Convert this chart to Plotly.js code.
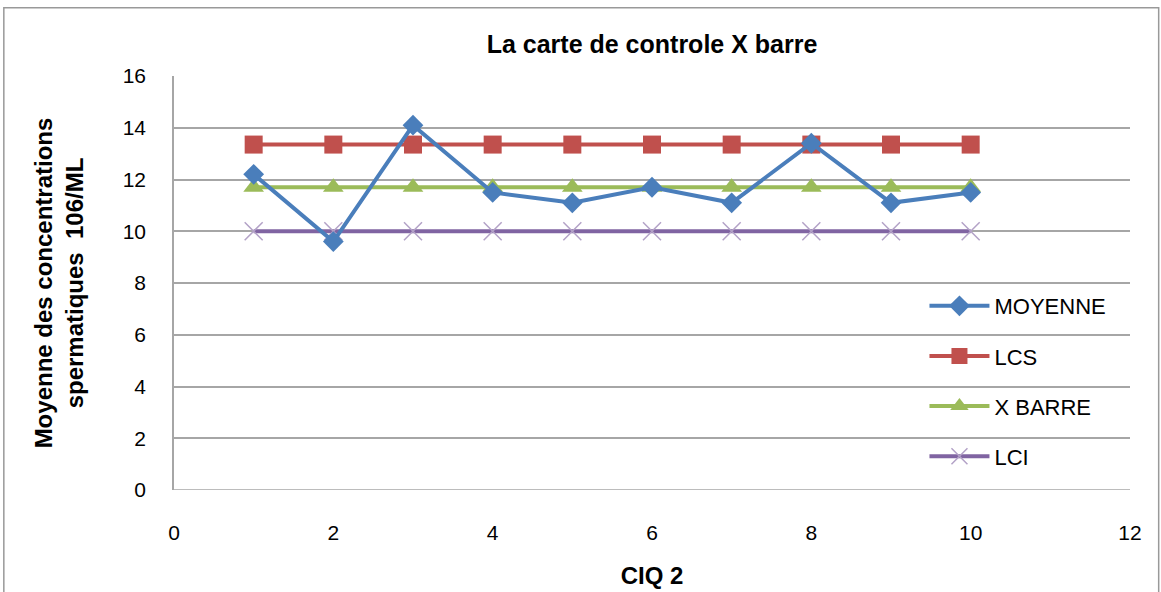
<!DOCTYPE html>
<html><head><meta charset="utf-8">
<script src="https://cdn.plot.ly/plotly-3.0.1.min.js"></script>
<style>html,body{margin:0;padding:0;background:#fff}#chart{width:1161px;height:592px}</style>
</head><body><div id="chart"></div>
<script>
const xs = [1,2,3,4,5,6,7,8,9,10];
const moyenne = [12.2,9.6,14.1,11.5,11.1,11.7,11.1,13.4,11.1,11.5];
const lcs = [13.35,13.35,13.35,13.35,13.35,13.35,13.35,13.35,13.35,13.35];
const xbarre = [11.7,11.7,11.7,11.7,11.7,11.7,11.7,11.7,11.7,11.7];
const lci = [10,10,10,10,10,10,10,10,10,10];
const names = ['MOYENNE','LCS','X BARRE','LCI'];
const font = 'Liberation Sans, Arial, sans-serif';
const traces = [
 {x:xs,y:lcs,name:names[1],legendgroup:'b',legendrank:2,mode:'lines+markers',line:{color:'#C0504D',width:4},marker:{symbol:'square',size:18,color:'#C0504D'}},
 {x:xs,y:xbarre,name:names[2],legendgroup:'c',legendrank:3,mode:'lines+markers',line:{color:'#9BBB59',width:4},marker:{symbol:'triangle-up',size:18,color:'#9BBB59'}},
 {x:xs,y:lci,name:names[3],legendgroup:'d',legendrank:4,mode:'lines+markers',line:{color:'#8064A2',width:4},marker:{symbol:'x-thin',size:18,line:{color:'#B3A2C7',width:1.5},color:'#B3A2C7'}},
 {x:xs,y:moyenne,name:names[0],legendgroup:'a',legendrank:1,mode:'lines+markers',line:{color:'#4A7EBB',width:4},marker:{symbol:'diamond',size:16,color:'#4A7EBB'}}
];
const layout = {
 width:1161,height:592,
 margin:{l:174,r:31,t:76,b:102},
 paper_bgcolor:'#fff',plot_bgcolor:'#fff',
 font:{family:font,size:21,color:'#000'},
 title:{text:'<b>La carte de controle X barre</b>',x:0.5,xref:'paper',y:0.925,yanchor:'middle',font:{size:25,family:font}},
 showlegend:true,
 legend:{x:0.785,y:0.495,xanchor:'left',yanchor:'top',bgcolor:'rgba(0,0,0,0)',tracegroupgap:18.5,font:{size:22,family:font},itemwidth:60},
 xaxis:{range:[0,12],dtick:2,tick0:0,showgrid:false,zeroline:false,showline:false,ticks:'',ticklabelstandoff:28,
   title:{text:'<b>CIQ 2</b>',font:{size:24,family:font},standoff:24}},
 yaxis:{range:[0,16],dtick:2,showgrid:true,gridcolor:'#A6A6A6',gridwidth:1.5,zeroline:false,showline:true,linecolor:'#A6A6A6',linewidth:1.5,ticks:'',ticklabelstandoff:22,
   title:{text:'<b>Moyenne des concentrations<br>spermatiques  106/ML</b>',font:{size:24,family:font},standoff:32}},
 shapes:[
  {type:'line',xref:'paper',yref:'y',x0:0,x1:1,y0:0,y1:0,line:{color:'#A6A6A6',width:1.5}},
  {type:'rect',xref:'paper',yref:'paper',x0:-0.178,x1:1.03,y0:-0.26,y1:1.165,line:{color:'#999',width:1.5}}
 ]
};
Plotly.newPlot('chart',traces,layout,{displayModeBar:false});
</script></body></html>
